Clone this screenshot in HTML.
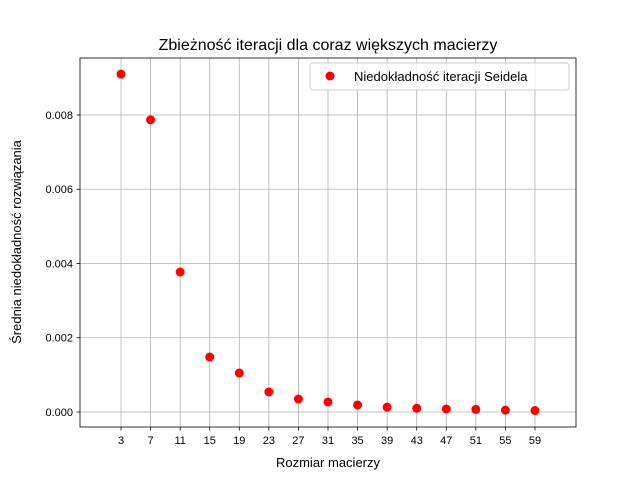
<!DOCTYPE html>
<html><head><meta charset="utf-8"><style>
body{margin:0;background:#fff}
svg text{font-family:"Liberation Sans","DejaVu Sans",sans-serif;fill:#000}
</style></head><body>
<svg id="c" width="640" height="480" viewBox="0 0 640 480">
<rect width="640" height="480" fill="#fff"/>
<g id="grid"></g>
<g id="pts"></g>
<rect x="80" y="58" width="496" height="369" fill="none" stroke="#000" stroke-width="0.8"/>
<g id="ticks"></g>
<text x="328" y="50" font-size="16" text-anchor="middle">Zbieżność iteracji dla coraz większych macierzy</text>
<text x="328" y="467" font-size="13" text-anchor="middle">Rozmiar macierzy</text>
<text transform="translate(21,242) rotate(-90)" font-size="13" text-anchor="middle">Średnia niedokładność rozwiązania</text>
<g>
<rect x="310" y="63" width="259" height="27" rx="3" fill="#fff" fill-opacity="0.8" stroke="#ccc"/>
<circle cx="330" cy="76" r="4.5" fill="#ff0000"/>
<text x="354" y="81" font-size="13">Niedokładność iteracji Seidela</text>
</g>
</svg>
<script>
const sizes=[3,7,11,15,19,23,27,31,35,39,43,47,51,55,59];
const errors=[0.0091,0.00787,0.00377,0.00148,0.00105,0.00054,0.00035,0.00027,0.00019,0.00013,0.0001,0.00008,0.00007,0.00005,0.00004];
const yTicks=[0,0.002,0.004,0.006,0.008];
const yTickLabels=["0.000","0.002","0.004","0.006","0.008"];
const L=80,R=576,T=58,B=427;
const xMin=-2.55,xMax=64.55,yMin=-0.000404,yMax=0.009535;
const X=v=>L+(v-xMin)/(xMax-xMin)*(R-L);
const Y=v=>B-(v-yMin)/(yMax-yMin)*(B-T);
const NS="http://www.w3.org/2000/svg";
const g=document.getElementById('grid'),p=document.getElementById('pts'),tk=document.getElementById('ticks');
function mk(t,a,par){const e=document.createElementNS(NS,t);for(const k in a)e.setAttribute(k,a[k]);par.appendChild(e);return e;}
sizes.forEach(s=>{
 const x=X(s);
 const gl=mk('line',{x1:x,x2:x,y1:T,y2:B,stroke:'#b0b0b0','stroke-width':0.8},g);
 
 
 const t=mk('line',{x1:x,x2:x,y1:B,y2:B+3.5,stroke:'#000','stroke-width':0.8},tk);
 
 
 const lb=mk('text',{x:x,y:B+17,'font-size':11,'text-anchor':'middle'},tk);
 lb.textContent=s;
 
 
});
yTicks.forEach((v,i)=>{
 const y=Y(v);
 const gl=mk('line',{x1:L,x2:R,y1:y,y2:y,stroke:'#b0b0b0','stroke-width':0.8},g);
 
 
 const t=mk('line',{x1:L-3.5,x2:L,y1:y,y2:y,stroke:'#000','stroke-width':0.8},tk);
 
 
 const lb=mk('text',{x:L-7,y:y+4,'font-size':11,'text-anchor':'end'},tk);
 lb.textContent=yTickLabels[i];
 
 
});
sizes.forEach((s,i)=>{
 const c=mk('circle',{cx:X(s),cy:Y(errors[i]),r:4.5,fill:'#ff0000'},p);
 
 
});
</script>
</body></html>
